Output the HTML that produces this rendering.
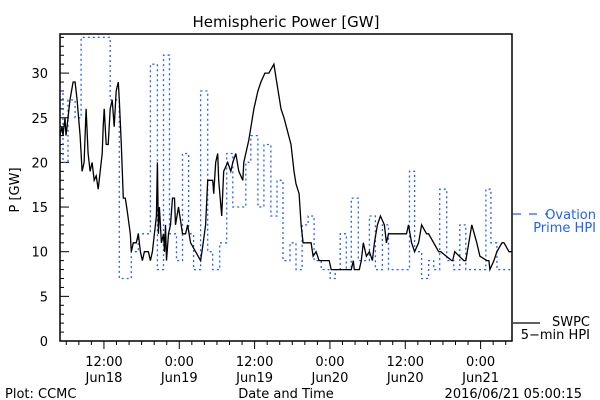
<!DOCTYPE html>
<html><head><meta charset="utf-8"><style>
html,body{margin:0;padding:0;background:#fff;}
svg{display:block;font-family:"DejaVu Sans","Liberation Sans",sans-serif;}
</style></head><body>
<svg id="chart" width="600" height="400" viewBox="0 0 600 400" xmlns="http://www.w3.org/2000/svg">
<rect x="0" y="0" width="600" height="400" fill="#fff"/>
<text x="286" y="27" font-size="15" text-anchor="middle" fill="#000">Hemispheric Power [GW]</text>
<text transform="translate(19,190) rotate(-90)" font-size="13" text-anchor="middle" fill="#000">P [GW]</text>
<g id="axes"></g>
<g id="series"></g>
<rect x="60" y="34" width="452" height="307" fill="none" stroke="#000" stroke-width="1.5"/>
<text x="286" y="398" font-size="13" text-anchor="middle">Date and Time</text>
<text x="5" y="398" font-size="13">Plot: CCMC</text>
<text x="582" y="398" font-size="13" text-anchor="end">2016/06/21 05:00:15</text>
<g>
<line x1="513" y1="214" x2="548" y2="214" stroke="#2060ff" stroke-width="1.3" stroke-dasharray="8,8"/>
<text x="596" y="219" font-size="13" text-anchor="end" fill="#2060ff">Ovation</text>
<text x="596" y="232" font-size="13" text-anchor="end" fill="#2060ff">Prime HPI</text>
</g>
<g>
<line x1="513" y1="323" x2="540" y2="323" stroke="#000" stroke-width="1.3"/>
<text x="590" y="326" font-size="13" text-anchor="end">SWPC</text>
<text x="590" y="339" font-size="13" text-anchor="end">5−min HPI</text>
</g>
</svg>
<script>
// Hours since 2016-06-18 05:00 UT
const swpcHours = [0,.32,.48,.8,.96,1.28,1.6,2.08,2.4,2.72,3.2,3.52,3.84,4.16,4.48,4.8,5.12,5.44,5.76,6.08,6.4,6.72,6.88,7.04,7.36,7.68,8,8.32,8.64,8.96,9.28,9.44,9.76,10.08,10.4,10.72,11.2,11.36,11.68,12.16,12.48,12.8,13.12,13.44,14.08,14.4,14.72,15.04,15.36,15.52,15.68,15.84,16.16,16.48,16.64,16.8,16.96,17.28,17.6,17.92,18.24,18.4,18.88,19.52,20,20.32,20.8,21.6,22.4,22.72,23.2,23.52,24.32,24.48,24.8,25.12,25.28,25.76,26.08,26.72,27.2,27.52,28,28.48,29.12,29.28,30.08,30.88,31.52,32,32.64,33.28,34.08,34.4,35.2,35.68,36.8,37.28,37.6,38.08,38.4,38.72,40,40.32,40.8,41.28,42.88,43.2,46.4,46.72,46.88,47.68,48,48.32,48.8,49.28,49.76,50.08,50.56,51.04,51.68,52,52.32,55.2,55.52,56,56.48,57.12,57.6,58.4,58.72,60.32,60.64,62.4,62.56,62.88,64.32,64.64,65.12,65.6,66.4,66.88,68,68.32,68.48,69.12,69.6,70.4,70.72,71.52,72];
const swpcValues = [23,24,23,25,23,25,27,29,29,27,23,19,20,26,21,19,20,18,18.5,17,19,21,24,26,22,22,26,27,24,28,29,27,22,16,16,14.5,12,10,11,11,12,10,9,10,10,9,10,12,14,20,12,15,11,12,10,13,9,12,13,16,16,13,15,12,12,13,11,10,9,10.5,13,18,18,16.5,20,21,18,14,19,20,19,20,21,19,18,20,22.5,26,28,29,30,30,31,29.5,26,25,22,19,17.6,16.5,13,11,11,9.5,10,9,9,8,8,9,8,8,9,11,9.5,10,9,11,13,14,13,11,12,12,13,11,10,11,13,12,12,10,10,9,9,10,9,9,11,13,11,9.5,9,9,8,9,10,11,11,10,10,9];
const ovationEdges = [0,.48,1.28,2.4,3.36,8,9.44,11.36,12.48,14.4,15.52,16.48,17.44,18.56,19.52,20.48,21.28,22.4,23.52,24.32,25.44,26.56,27.52,29.6,30.4,31.52,32.48,33.6,34.56,35.52,36.64,37.6,38.56,39.52,40.48,41.6,43.04,43.84,44.64,45.6,46.4,47.52,49.28,50.24,51.36,52.32,55.68,56.48,57.6,58.72,59.52,60.48,61.6,62.72,63.68,64.64,67.84,68.64,69.6,72];
const ovationValues = [28,20,27,25,34,27,7,10,12,31,8,32,12,9,21,12,8,28,10,8,11,21,15,20,23,15,22,14,18,9,11,8,13,14,9,8,7,8,12,8,16,9,14,8,13,8,19,10,7,9,8,17,9,8,13,8,17,11,8];
const yTickValues = [0,5,10,15,20,25,30];
const xTickHours = [7,19,31,43,55,67];
const xTickTimes = ["12:00","0:00","12:00","0:00","12:00","0:00"];
const xTickDates = ["Jun18","Jun19","Jun19","Jun20","Jun20","Jun21"];

const NS="http://www.w3.org/2000/svg";
const X0=60,X1=512,Y0=341,YT=34,HMAX=72,VMAX=(341-34)/8.93;
function xs(h){return X0+h*(X1-X0)/HMAX;}
function ys(v){return Y0-Math.min(v,VMAX)*(Y0-YT)/VMAX;}
function mk(tag,attrs,parent){const e=document.createElementNS(NS,tag);for(const k in attrs)e.setAttribute(k,attrs[k]);parent.appendChild(e);return e;}
const axes=document.getElementById('axes');
const series=document.getElementById('series');
// y ticks
for(let v=0;v<=34;v++){
  const major=v%5===0;
  const t=mk('line',{x1:X0,x2:X0+(major?9:4),y1:ys(v),y2:ys(v),stroke:'#000','stroke-width':1},axes);
  
  
}
yTickValues.forEach(v=>{
  const t=mk('text',{x:48,y:ys(v)+5,'font-size':13,'text-anchor':'end'},axes);
  t.textContent=String(v);
  
  
});
// x ticks minor every 2h
for(let h=1;h<HMAX;h+=2){
  const major=xTickHours.includes(h);
  const t=mk('line',{x1:xs(h),x2:xs(h),y1:Y0,y2:Y0+(major?8:4),stroke:'#000','stroke-width':1},axes);
  
  
}
xTickHours.forEach((h,i)=>{
  const a=mk('text',{x:xs(h),y:366,'font-size':13,'text-anchor':'middle'},axes);
  a.textContent=xTickTimes[i];
  
  
  const b=mk('text',{x:xs(h),y:382,'font-size':13,'text-anchor':'middle'},axes);
  b.textContent=xTickDates[i];
  
  
});
// ovation step line
let d='';
ovationValues.forEach((v,i)=>{
  const xa=xs(ovationEdges[i]),xb=xs(ovationEdges[i+1]),y=ys(v);
  d+=(i===0?'M':'L')+xa.toFixed(1)+','+y.toFixed(1)+'L'+xb.toFixed(1)+','+y.toFixed(1);
});
const ov=mk('path',{d:d,fill:'none',stroke:'#2060ff','stroke-width':1.3,'stroke-dasharray':'2,3'},series);


// swpc line
const pts=swpcHours.map((h,i)=>xs(h).toFixed(1)+','+ys(swpcValues[i]).toFixed(1)).join(' ');
const sw=mk('polyline',{points:pts,fill:'none',stroke:'#000','stroke-width':1.3},series);


</script>
</body></html>
